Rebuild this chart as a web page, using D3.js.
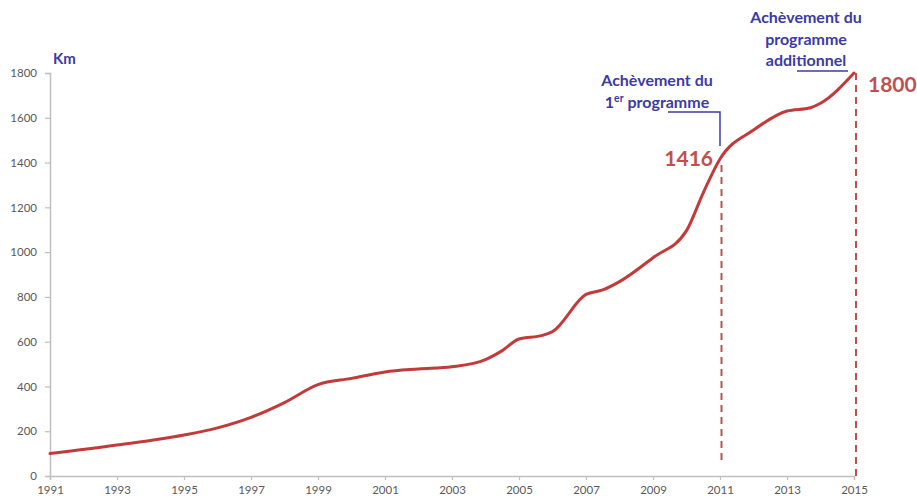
<!DOCTYPE html>
<html><head><meta charset="utf-8">
<script src="https://cdn.jsdelivr.net/npm/d3@7"></script>
<style>
html,body{margin:0;padding:0;background:#fff;}
svg{display:block;}
</style></head>
<body>
<svg id="c" width="917" height="500"></svg>
<script>
// Data (km of network by year)
const years = [1991, 1993, 1995, 1996, 1997, 1998, 1999, 2000, 2001, 2002, 2003, 2004, 2004.5, 2005, 2005.7, 2006, 2007, 2007.5, 2008, 2009, 2010, 2010.5, 2011, 2012, 2013, 2013.7, 2014, 2015];
const km    = [100,  138,  183,  215,  262,  328,  408,  436,  465,  478,  488,  520,  560,    612,  628,    645,  811,  831,    868,  975,  1096, 1265,   1416, 1545, 1630, 1645,   1665, 1800];
const xTicks = [1991, 1993, 1995, 1997, 1999, 2001, 2003, 2005, 2007, 2009, 2011, 2013, 2015];
const yTicks = [0, 200, 400, 600, 800, 1000, 1200, 1400, 1600, 1800];
const milestones = [{year: 2011, value: 1416, label: "1416"}, {year: 2015, value: 1800, label: "1800"}];

const svg = d3.select("#c");
const x = d3.scaleLinear().domain([1991, 2015]).range([50, 854]);
const y = d3.scaleLinear().domain([0, 1800]).range([476, 73]);

const axisColor = "#bfbfbf", tickText = "#595959";
const blue = "#3b3ba3", red = "#c0504d", lineRed = "#c23a3a";
const font = "Lato, 'Open Sans', sans-serif";

// Y axis
const ya = svg.append("g").attr("transform", "translate(50,0)")
  .call(d3.axisLeft(y).tickValues(yTicks).tickSize(5).tickPadding(8).tickFormat(d3.format("d")));
// X axis
const xa = svg.append("g").attr("transform", "translate(0,476)")
  .call(d3.axisBottom(x).tickValues(xTicks).tickSize(4).tickPadding(6).tickFormat(d3.format("d")));
[ya, xa].forEach(g => {
  g.select(".domain").attr("stroke", axisColor).attr("stroke-width", 1.5);
  g.selectAll(".tick line").attr("stroke", axisColor).attr("stroke-width", 1.2);
  g.selectAll(".tick text").attr("fill", tickText).attr("font-family", font).attr("font-size", 11.5);
});

// Km label
svg.append("text").attr("x", 53).attr("y", 64).attr("fill", blue)
  .attr("font-family", font).attr("font-weight", "bold").attr("font-size", 15).text("Km");

// Dashed lines
svg.append("line").attr("x1", x(2011) + 1.5).attr("x2", x(2011) + 1.5)
  .attr("y1", y(1416) + 6).attr("y2", 465)
  .attr("stroke", red).attr("stroke-width", 2).attr("stroke-dasharray", "7,5");
svg.append("line").attr("x1", x(2015) + 2).attr("x2", x(2015) + 2)
  .attr("y1", y(1800)).attr("y2", 479)
  .attr("stroke", red).attr("stroke-width", 2).attr("stroke-dasharray", "7,5");

// Line
const pts = years.map((d, i) => [d, km[i]]);
svg.append("path").datum(pts)
  .attr("fill", "none").attr("stroke", lineRed).attr("stroke-width", 3)
  .attr("stroke-linejoin", "round").attr("stroke-linecap", "round")
  .attr("d", d3.line().x(d => x(d[0])).y(d => y(d[1])).curve(d3.curveMonotoneX));

// Milestone labels
svg.append("text").attr("x", x(2011) - 7).attr("y", y(1416) + 7).attr("text-anchor", "end")
  .attr("fill", red).attr("font-family", font).attr("font-weight", "bold").attr("font-size", 21)
  .text(milestones[0].label);
svg.append("text").attr("x", x(2015) + 14).attr("y", y(1800) + 19).attr("text-anchor", "start")
  .attr("fill", red).attr("font-family", font).attr("font-weight", "bold").attr("font-size", 21)
  .text(milestones[1].label);

// Annotation brackets
svg.append("path").attr("fill", "none").attr("stroke", blue).attr("stroke-width", 1.5)
  .attr("d", `M668,112 H${x(2011)} V146`);
svg.append("path").attr("fill", "none").attr("stroke", blue).attr("stroke-width", 1.5)
  .attr("d", `M797,71 H848`);

// Annotation texts
function ann(cx, cy, lines) {
  const t = svg.append("text").attr("text-anchor", "middle").attr("fill", blue)
    .attr("font-family", font).attr("font-weight", "bold").attr("font-size", 16);
  lines.forEach((l, i) => {
    const ts = t.append("tspan").attr("x", cx).attr("y", cy + i * 21.5);
    if (Array.isArray(l)) {
      l.forEach(p => {
        const s = ts.append("tspan").text(p.t);
        if (p.sup) s.attr("baseline-shift", "super").attr("font-size", 10.5);
      });
    } else ts.text(l);
  });
}
ann(657, 86, ["Achèvement du", [{t: "1"}, {t: "er", sup: true}, {t: " programme"}]]);
ann(806, 23, ["Achèvement du", "programme", "additionnel"]);
</script>
</body></html>
